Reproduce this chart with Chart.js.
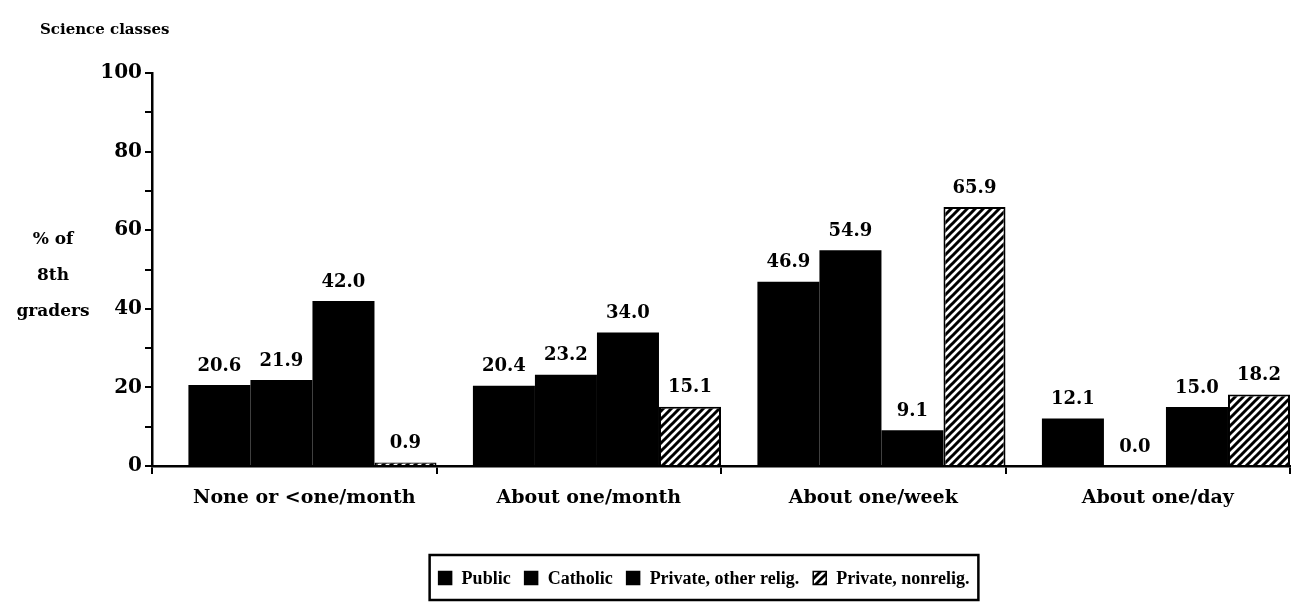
<!DOCTYPE html>
<html>
<head>
<meta charset="utf-8">
<script src="https://cdn.jsdelivr.net/npm/chart.js@4/dist/chart.umd.min.js"></script>
<style>
  html, body { margin: 0; padding: 0; background: #fff; }
  #wrap { width: 1298px; height: 614px; }
</style>
</head>
<body>
<div id="wrap"><canvas id="myChart" width="1298" height="614"></canvas></div>
<script>
// data
const categories = ['None or <one/month', 'About one/month', 'About one/week', 'About one/day'];
const publicVals = [20.6, 20.4, 46.9, 12.1];
const catholicVals = [21.9, 23.2, 54.9, 0.0];
const otherReligVals = [42.0, 34.0, 9.1, 15.0];
const nonReligVals = [0.9, 15.1, 65.9, 18.2];
const yTicks = [0, 20, 40, 60, 80, 100];

const serif = '"Liberation Serif", "DejaVu Serif", serif';
const wide = '"DejaVu Serif", serif';

// hatch for the nonrelig. bars
function makeHatch() {
    const c = document.createElement('canvas');
    c.width = 8;
    c.height = 8;
    const g = c.getContext('2d');
    g.fillStyle = '#fff';
    g.fillRect(0, 0, 8, 8);
    g.strokeStyle = '#000';
    g.lineWidth = 3;
    g.beginPath();
    g.moveTo(0, 8); g.lineTo(8, 0);
    g.moveTo(-4, 4); g.lineTo(4, -4);
    g.moveTo(4, 12); g.lineTo(12, 4);
    g.stroke();
    return g.createPattern(c, 'repeat');
}
const hatch = makeHatch();

// groups sit flush against the right tick of their category
const groupShift = {
    id: 'groupShift',
    afterDatasetsUpdate(chart) {
        const x = chart.scales.x;
        const catW = x.width / chart.data.labels.length;
        const shift = catW * (1 - 0.872) / 2;
        chart.data.datasets.forEach((ds, i) => {
            chart.getDatasetMeta(i).data.forEach(bar => { bar.x += shift; });
        });
    }
};

// value labels, titles, legend
const extras = {
    id: 'extras',
    afterDatasetsDraw(chart) {
        const ctx = chart.ctx;
        ctx.save();
        ctx.fillStyle = '#000';
        ctx.font = 'bold 18px ' + wide;
        ctx.textAlign = 'center';
        ctx.textBaseline = 'bottom';
        chart.data.datasets.forEach((ds, i) => {
            chart.getDatasetMeta(i).data.forEach((bar, j) => {
                ctx.fillText(ds.data[j].toFixed(1), bar.x, bar.y - 10);
            });
        });
        ctx.restore();
    },
    afterDraw(chart) {
        const ctx = chart.ctx;
        ctx.save();
        ctx.fillStyle = '#000';
        ctx.font = 'bold 15px ' + wide;
        ctx.textAlign = 'left';
        ctx.textBaseline = 'middle';
        ctx.fillText('Science classes', 40, 30);

        ctx.font = 'bold 17px ' + wide;
        ctx.textAlign = 'center';
        ctx.fillText('% of', 53, 240);
        ctx.fillText('8th', 53, 276);
        ctx.fillText('graders', 53, 312);

        // legend in a frame
        const ds = chart.data.datasets;
        ctx.font = 'bold 18px ' + serif;
        const box = 13, gapBox = 10, gapItem = 14;
        let total = 0;
        ds.forEach((d, i) => {
            total += box + gapBox + ctx.measureText(d.label).width;
            if (i < ds.length - 1) total += gapItem;
        });
        const cx = 704, cy = 578;
        let x = cx - total / 2;
        ctx.textAlign = 'left';
        ds.forEach(d => {
            ctx.fillStyle = d.backgroundColor;
            ctx.fillRect(x, cy - box / 2, box, box);
            ctx.strokeStyle = '#000';
            ctx.lineWidth = 1.5;
            ctx.strokeRect(x, cy - box / 2, box, box);
            ctx.fillStyle = '#000';
            ctx.fillText(d.label, x + box + gapBox, cy + 1);
            x += box + gapBox + ctx.measureText(d.label).width + gapItem;
        });
        ctx.strokeStyle = '#000';
        ctx.lineWidth = 2.5;
        ctx.strokeRect(cx - total / 2 - 9, 555, total + 18, 45);
        ctx.restore();
    }
};

const data = {
    labels: categories,
    datasets: [
        { label: 'Public', data: publicVals, backgroundColor: '#000', borderWidth: 0 },
        { label: 'Catholic', data: catholicVals, backgroundColor: '#000', borderWidth: 0 },
        { label: 'Private, other relig.', data: otherReligVals, backgroundColor: '#000', borderWidth: 0 },
        { label: 'Private, nonrelig.', data: nonReligVals, backgroundColor: hatch, borderColor: '#000', borderWidth: 2 }
    ]
};

const config = {
    type: 'bar',
    data: data,
    options: {
        responsive: false,
        animation: false,
        layout: { padding: { top: 73, right: 8, bottom: 59, left: 0 } },
        datasets: {
            bar: { categoryPercentage: 0.872, barPercentage: 1.0 }
        },
        plugins: {
            tooltip: { enabled: false },
            legend: { display: false }
        },
        scales: {
            x: {
                afterFit(scale) { scale.height = 89; },
                border: { color: '#000', width: 2.5 },
                grid: { drawOnChartArea: false, color: '#000', lineWidth: 2, tickLength: 8 },
                ticks: {
                    color: '#000',
                    padding: 13,
                    maxRotation: 0,
                    labelOffset: 10,
                    font: { family: wide, size: 19, weight: 'bold' }
                }
            },
            y: {
                min: 0,
                max: 100,
                afterFit(scale) { scale.width = 152; },
                border: { color: '#000', width: 2.5 },
                grid: { drawOnChartArea: false, color: '#000', lineWidth: 2, tickLength: 7 },
                ticks: {
                    stepSize: 10,
                    color: '#000',
                    padding: 3,
                    font: { family: wide, size: 20, weight: 'bold' },
                    callback: function (v) { return yTicks.includes(v) ? v : ''; }
                }
            }
        }
    },
    plugins: [groupShift, extras]
};

const myChart = new Chart(document.getElementById('myChart'), config);
</script>
</body>
</html>
